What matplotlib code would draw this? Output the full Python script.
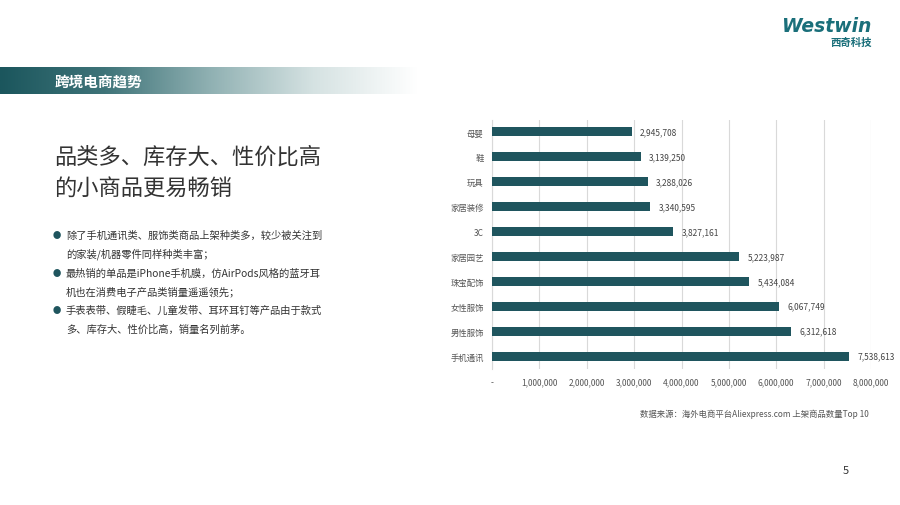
import numpy as np
import matplotlib
matplotlib.use("Agg")
import matplotlib.pyplot as plt
from matplotlib.colors import LinearSegmentedColormap
from matplotlib.ticker import FuncFormatter

plt.rcParams['font.family'] = ['Noto Sans CJK SC', 'DejaVu Sans']

categories = ['母婴', '鞋', '玩具', '家居装修', '3C', '家居园艺', '珠宝配饰', '女性服饰', '男性服饰', '手机通讯']
values = [2945708, 3139250, 3288026, 3340595, 3827161, 5223987, 5434084, 6067749, 6312618, 7538613]
xticks = [0, 1000000, 2000000, 3000000, 4000000, 5000000, 6000000, 7000000, 8000000]

header_text = '跨境电商趋势'
title_lines = ['品类多、库存大、性价比高', '的小商品更易畅销']
bullets = [
    ['除了手机通讯类、服饰类商品上架种类多，较少被关注到', '的家装/机器零件同样种类丰富；'],
    ['最热销的单品是iPhone手机膜，仿AirPods风格的蓝牙耳', '机也在消费电子产品类销量遥遥领先；'],
    ['手表表带、假睫毛、儿童发带、耳环耳钉等产品由于款式', '多、库存大、性价比高，销量名列前茅。'],
]
source_text = '数据来源：海外电商平台Aliexpress.com 上架商品数量Top 10'

W, H = 900, 506
fig = plt.figure(figsize=(9, 5.06), dpi=100)
fig.patch.set_facecolor('white')

teal = '#1f555e'

def fx(px):
    return px / W

def fy(py):
    return 1 - py / H

# header gradient band
hax = fig.add_axes([0, fy(95), fx(418), 27 / H])
cmap = LinearSegmentedColormap.from_list('g', ['#1b565d', '#3f7479', '#8fb0b2', '#d5e2e2', '#ffffff'])
grad = np.linspace(0, 1, 512).reshape(1, -1)
hax.imshow(grad, aspect='auto', cmap=cmap, extent=[0, 1, 0, 1])
hax.axis('off')
fig.text(fx(55), fy(82), header_text, color='white', fontsize=10.5, fontweight='bold', va='center', ha='left')

# logo
fig.text(fx(871), fy(27), 'Westwin', color='#1a6f7a', fontsize=13.5, fontweight='bold',
         fontstyle='italic', family=['DejaVu Sans'], ha='right', va='center')
fig.text(fx(872), fy(43), '西奇科技', color='#1a6f7a', fontsize=7.5, fontweight='bold', ha='right', va='center')

# title
for i, line in enumerate(title_lines):
    fig.text(fx(54), fy(157 + i * 31), line, color='#333333', fontsize=16, ha='left', va='center')

# bullets
y0 = 236
step = 18.7
k = 0
for b in bullets:
    fig.text(fx(57), fy(y0 + k * step), '●', color=teal, fontsize=6, ha='center', va='center')
    for line in b:
        fig.text(fx(66), fy(y0 + k * step), line, color='#333333', fontsize=7.4, ha='left', va='center')
        k += 1

# chart
ax = fig.add_axes([fx(492), fy(369.5), fx(871) - fx(492), (369.5 - 120.5) / H])
y = np.arange(len(categories))
ax.barh(y, values, height=0.36, color=teal, zorder=3)
ax.set_ylim(len(categories) - 0.5, -0.5)
ax.set_xlim(0, 8000000)
ax.set_yticks(y)
ax.set_yticklabels(categories, fontsize=6, color='#555555')
ax.set_xticks(xticks)
ax.xaxis.set_major_formatter(FuncFormatter(lambda v, p: '-' if v == 0 else f'{int(v):,}'))
ax.tick_params(axis='x', labelsize=6, colors='#555555', length=0, pad=6)
ax.tick_params(axis='y', length=0, pad=6)
ax.grid(axis='x', color='#d9d9d9', linewidth=0.8, zorder=0)
for s in ['top', 'right', 'bottom']:
    ax.spines[s].set_visible(False)
ax.spines['left'].set_color('#d9d9d9')
ax.spines['left'].set_linewidth(0.8)
for yi, v in zip(y, values):
    ax.annotate(f'{v:,}', (v, yi), xytext=(6, 0), textcoords='offset points',
                fontsize=6, color='#444444', va='center', ha='left', annotation_clip=False)
ax.set_facecolor('none')

fig.text(fx(869), fy(414), source_text, color='#555555', fontsize=6, ha='right', va='center')
fig.text(fx(846), fy(471), '5', color='#333333', fontsize=8, ha='center', va='center')

fig.savefig('out.png', dpi=100, facecolor='white')
